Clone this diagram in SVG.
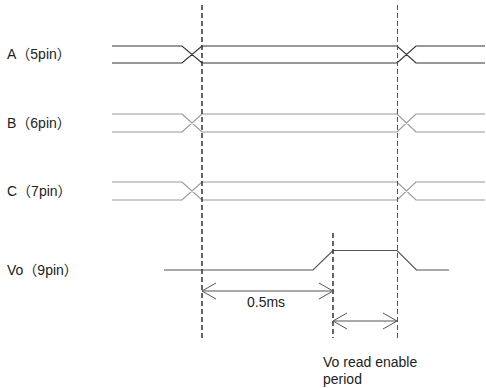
<svg xmlns="http://www.w3.org/2000/svg" width="486" height="388" viewBox="0 0 486 388">
<style>
text{font-family:"Liberation Sans","Noto Sans CJK JP",Arial,sans-serif;font-size:14px;fill:#222}
.sa{fill:none;stroke:#333;stroke-width:1.2}
.sb{fill:none;stroke:#999;stroke-width:1.2}
.sv{fill:none;stroke:#555;stroke-width:1.2}
.d1{stroke:#333;stroke-width:1.5;stroke-dasharray:5 3}
.d2{stroke:#555;stroke-width:1;stroke-dasharray:5 3}
.ar{fill:none;stroke:#555;stroke-width:1}
</style>
<rect width="486" height="388" fill="#fff"/>
<g id="signal-A">
<text x="7" y="59">A（5pin）</text>
<path class="sa" d="M112,46H182L202,63H397L416,46H485M112,63H182L202,46H397L416,63H485"/>
</g>
<g id="signal-B">
<text x="7" y="128">B（6pin）</text>
<path class="sb" d="M112,114H182L202,132H397L416,114H485M112,132H182L202,114H397L416,132H485"/>
</g>
<g id="signal-C">
<text x="7" y="196">C（7pin）</text>
<path class="sb" d="M112,182H182L202,200H397L416,182H485M112,200H182L202,182H397L416,200H485"/>
</g>
<g id="signal-Vo">
<text x="7" y="275">Vo（9pin）</text>
<path class="sv" d="M164,270H313L333,250.5H397L416.5,270H449"/>
</g>
<g id="connectors">
<line class="d1" x1="202" y1="5" x2="202" y2="338"/>
<line class="d1" x1="333" y1="233" x2="333" y2="338"/>
<line class="d2" x1="397.5" y1="5" x2="397.5" y2="338"/>
<path class="ar" d="M202,291H333M216,283L202,291L216,299M319,283L333,291L319,299"/>
<path class="ar" d="M333,321H397M347,313L333,321L347,329M383,313L397,321L383,329"/>
</g>
<g id="labels">
<text x="247" y="307">0.5ms</text>
<text x="323" y="367">Vo read enable</text>
<text x="323" y="384">period</text>
</g>
</svg>
